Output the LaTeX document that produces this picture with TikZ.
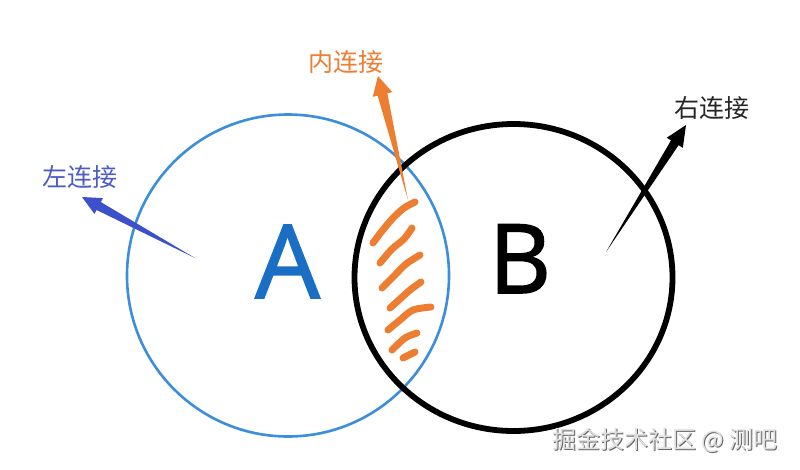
\documentclass[tikz,border=0pt]{standalone}
\usepackage{fontspec}
\setmainfont{Open Sans}
\newfontfamily\cjk{Noto Sans CJK SC}
\newfontfamily\letterfont[FakeBold=1.6]{Open Sans}
\usetikzlibrary{calc}
\definecolor{ablue}{HTML}{1A6FC4}
\definecolor{cblue}{HTML}{3B8EDB}
\definecolor{lblue}{HTML}{3D50CC}
\definecolor{ltext}{HTML}{4B5CC4}
\definecolor{orng}{HTML}{ED7D31}
\newcommand\taperarrow[6]{%
  \coordinate (tmpb) at ($(#3)!#4!(#2)$);
  \fill[#1] (#2) -- ($(tmpb)!#6!90:(#3)$) -- ($(tmpb)!#5!90:(#3)$) -- (#3)
    -- ($(tmpb)!#5!-90:(#3)$) -- ($(tmpb)!#6!-90:(#3)$) -- cycle;}
\tikzset{
  lbl/.style={inner sep=0pt, font=\cjk\fontsize{25}{25}\selectfont},
  hatch/.style={draw=orng, line width=7pt, line cap=round, line join=round},
  wm/.style={inner sep=0pt, font=\cjk\fontsize{24}{24}\selectfont}
}
\begin{document}
\begin{tikzpicture}[x=1pt,y=-1pt]
\useasboundingbox (0,0) rectangle (800,469);
\fill[white] (0,0) rectangle (800,469);
% circles
\draw[cblue, line width=2.6pt] (288,275.5) circle (161);
\draw[black, line width=5.8pt] (513.5,277.5) ellipse [x radius=159, y radius=153.5];
% letters
\node[anchor=base, inner sep=0pt, text=ablue, font=\letterfont\fontsize{102}{102}\selectfont] (A) at (287.5,298) {A};
\node[anchor=base, inner sep=0pt, text=black, font=\letterfont\fontsize{96}{96}\selectfont] (B) at (520,293) {B};
% hatch strokes
\draw[hatch] plot[smooth] coordinates {(415,202) (404,208) (393,218) (382,231) (373,243)};
\draw[hatch] plot[smooth] coordinates {(412,228) (404,239) (392,249) (380,263)};
\draw[hatch] plot[smooth] coordinates {(420,255) (406,264) (394,276) (382,288)};
\draw[hatch] plot[smooth] coordinates {(421,282) (410,290) (400,299) (390,308)};
\draw[hatch] plot[smooth] coordinates {(431,307) (413,310) (400,320) (388,330)};
\draw[hatch] plot[smooth] coordinates {(417,333) (405,338) (392,350)};
\draw[hatch] plot[smooth] coordinates {(415,352) (403,358)};
% labels
\node[lbl, text=ltext] (left) at (80,177) {左连接};
\node[lbl, text=orng] (inner) at (346,62) {内连接};
\node[lbl, text=black!85] (right) at (712,108) {右连接};
% arrow ends
\coordinate (lt) at (195,258);
\coordinate (lp) at (82,197);
\coordinate (it) at (408,200);
\coordinate (ip) at (378,76);
\coordinate (rt) at (606,252);
\coordinate (rp) at (686,125);
\taperarrow{lblue}{lt}{lp}{19pt}{9pt}{4.5pt}
\taperarrow{orng}{it}{ip}{19pt}{10pt}{5pt}
\taperarrow{black}{rt}{rp}{21pt}{9.5pt}{4.5pt}
% watermark
\node[wm, text=black!60] at (666,441) {掘金技术社区 @ 测吧};
\node[wm, text=black!12] (wmk) at (665,440) {掘金技术社区 @ 测吧};
\end{tikzpicture}
\end{document}
